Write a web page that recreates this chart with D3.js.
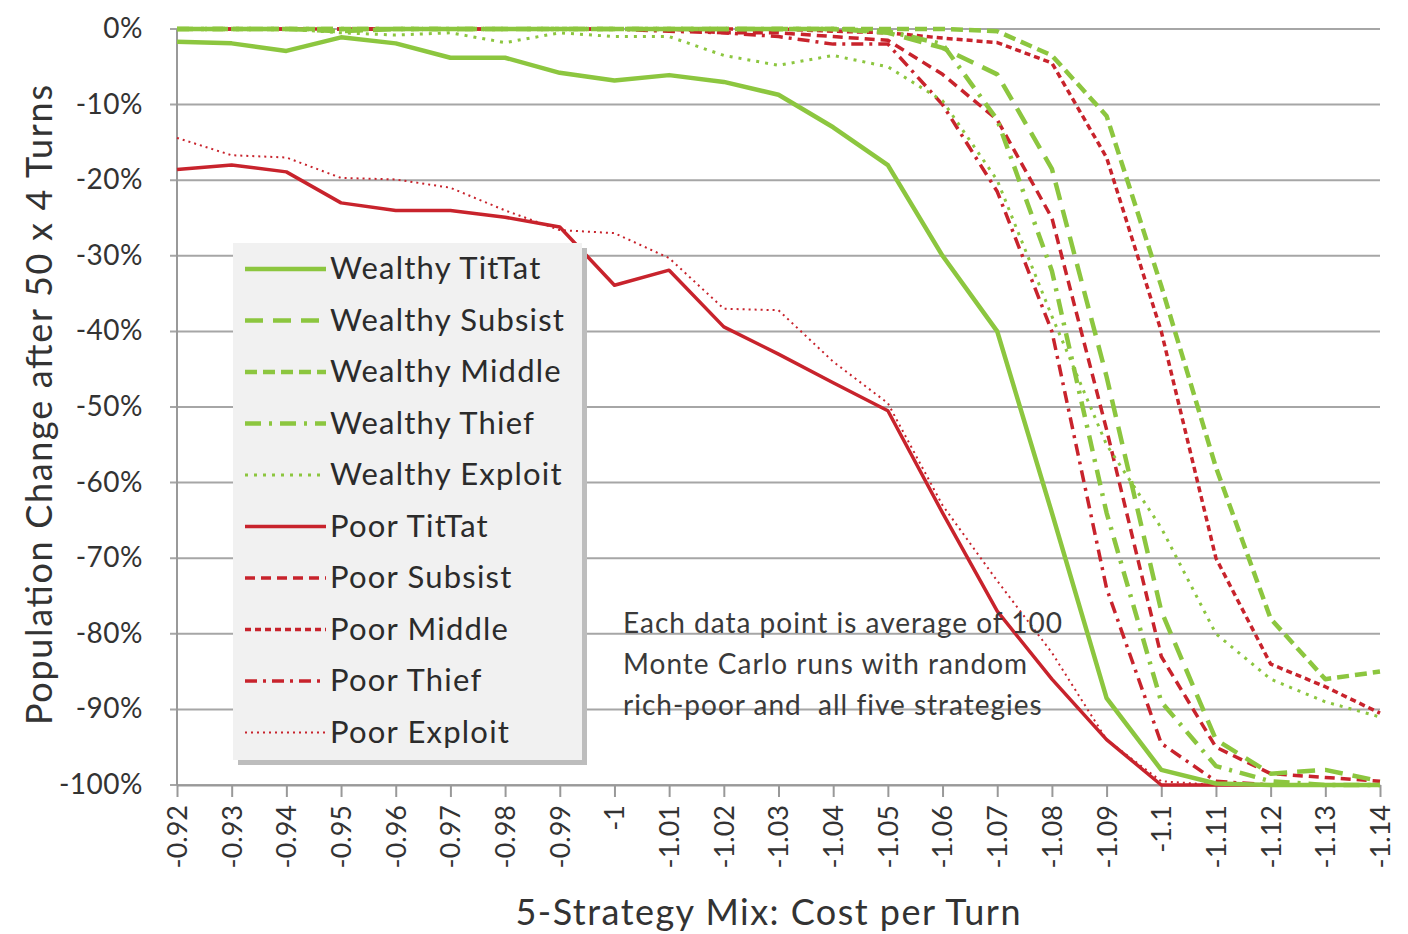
<!DOCTYPE html>
<html>
<head>
<meta charset="utf-8">
<script src="https://cdn.jsdelivr.net/npm/d3@7"></script>
<style>
  body { margin: 0; background: #fff; }
  #vis { width: 1408px; height: 934px; }
</style>
</head>
<body>
<div id="vis"></div>
<script>
// categories (cost per turn)
var cats = ['-0.92', '-0.93', '-0.94', '-0.95', '-0.96', '-0.97', '-0.98', '-0.99', '-1', '-1.01', '-1.02',
  '-1.03', '-1.04', '-1.05', '-1.06', '-1.07', '-1.08', '-1.09', '-1.1', '-1.11', '-1.12', '-1.13', '-1.14']

var yTicks = [0, -10, -20, -30, -40, -50, -60, -70, -80, -90, -100]

// population change in percent
var wealthyTitTat = [-1.7, -1.9, -2.9, -1.1, -1.9, -3.8, -3.8, -5.8, -6.8, -6.1, -7, -8.7, -13, -18, -30, -40, -64, -88.5, -98, -99.8, -100, -100, -100]
var wealthySubsist = [0, 0, 0, -0.3, 0, 0, 0, 0, 0, 0, 0, 0, 0, -0.5, -2.5, -6, -18.5, -46, -77, -94, -98.5, -98, -99.5]
var wealthyMiddle = [0, 0, 0, 0, 0, 0, 0, 0, 0, 0, 0, 0, 0, 0, 0, -0.3, -3.5, -11.5, -34, -58, -78, -86, -85]
var wealthyThief = [0, 0, 0, 0, 0, 0, 0, 0, 0, 0, 0, 0, 0, -0.3, -2, -12, -32, -64, -89, -97.5, -99.5, -100, -100]
var wealthyExploit = [0, 0, 0, -0.5, -0.8, -0.5, -1.8, -0.5, -1, -1, -3.5, -4.8, -3.5, -5, -9.5, -20, -38, -55, -66, -80, -86, -89, -91]
var poorTitTat = [-18.6, -18, -18.9, -23, -24, -24, -24.9, -26.2, -33.9, -31.9, -39.4, -43, -46.8, -50.5, -64, -77, -86, -94, -100, -100, -100, -100, -100]
var poorSubsist = [0, 0, 0, 0, 0, 0, 0, 0, 0, 0, -0.5, -0.5, -1, -1.5, -6, -12, -25, -53, -83, -95, -98.5, -99, -99.5]
var poorMiddle = [0, 0, 0, 0, 0, 0, 0, 0, 0, 0, 0, 0, -0.3, -0.5, -1.2, -1.8, -4.5, -17, -40, -70, -84, -87, -90.5]
var poorThief = [0, 0, 0, 0, 0, 0, 0, 0, 0, -0.3, -0.5, -1, -2, -2, -10, -21.5, -40, -74, -94.5, -99.5, -100, -100, -100]
var poorExploit = [-14.4, -16.7, -17, -19.7, -19.9, -21, -24, -26.6, -27, -30.3, -37, -37.2, -44, -49.5, -63, -73, -82.5, -94, -99.5, -100, -100, -100, -100]

var green = '#8cc63f',
  red = '#c8232c'

var series = [
  { name: 'Wealthy TitTat', values: wealthyTitTat, color: green, width: 4.5, dash: null },
  { name: 'Wealthy Subsist', values: wealthySubsist, color: green, width: 4.5, dash: '18,10' },
  { name: 'Wealthy Middle', values: wealthyMiddle, color: green, width: 4.5, dash: '12,6' },
  { name: 'Wealthy Thief', values: wealthyThief, color: green, width: 4.5, dash: '16,8,3,8' },
  { name: 'Wealthy Exploit', values: wealthyExploit, color: green, width: 3, dash: '3,6' },
  { name: 'Poor TitTat', values: poorTitTat, color: red, width: 3.5, dash: null },
  { name: 'Poor Subsist', values: poorSubsist, color: red, width: 3.5, dash: '10,6' },
  { name: 'Poor Middle', values: poorMiddle, color: red, width: 3.5, dash: '6,4' },
  { name: 'Poor Thief', values: poorThief, color: red, width: 3.5, dash: '12,6,3,6' },
  { name: 'Poor Exploit', values: poorExploit, color: red, width: 2, dash: '2,4' },
]

function drawChart() {
  var w = 1408,
    h = 934
  var plotLeft = 177,
    plotRight = 1380,
    plotTop = 29,
    plotBottom = 785
  var font = 'Lato, "Open Sans", sans-serif'

  var svg = d3.select('#vis').append('svg').attr('width', w).attr('height', h)

  var x = d3.scalePoint().domain(cats).range([plotLeft, plotRight])
  var y = d3.scaleLinear().domain([-100, 0]).range([plotBottom, plotTop])

  // gridlines
  svg
    .append('g')
    .selectAll('line')
    .data(yTicks)
    .enter()
    .append('line')
    .attr('x1', plotLeft - 7)
    .attr('x2', plotRight)
    .attr('y1', function (d) {
      return y(d)
    })
    .attr('y2', function (d) {
      return y(d)
    })
    .attr('stroke', '#a6a6a6')
    .attr('stroke-width', 2)

  // y axis line
  svg
    .append('line')
    .attr('x1', plotLeft)
    .attr('x2', plotLeft)
    .attr('y1', plotTop)
    .attr('y2', plotBottom)
    .attr('stroke', '#999')
    .attr('stroke-width', 2)

  // y tick labels
  svg
    .append('g')
    .selectAll('text')
    .data(yTicks)
    .enter()
    .append('text')
    .attr('x', 143)
    .attr('y', function (d) {
      return y(d) + 9
    })
    .attr('text-anchor', 'end')
    .style('font-family', font)
    .style('font-size', '28px')
    .style('letter-spacing', '0.5px')
    .style('fill', '#333')
    .text(function (d) {
      return d + '%'
    })

  // x axis
  var xAxis = svg
    .append('g')
    .attr('transform', 'translate(0,' + plotBottom + ')')
    .call(d3.axisBottom(x).tickSize(12).tickSizeOuter(0))
  xAxis.select('.domain').attr('stroke', '#999').attr('stroke-width', 2)
  xAxis.selectAll('.tick line').attr('stroke', '#999').attr('stroke-width', 2)
  xAxis
    .selectAll('.tick text')
    .attr('transform', 'rotate(-90)')
    .attr('x', -20)
    .attr('y', 0)
    .attr('dy', '0.35em')
    .attr('text-anchor', 'end')
    .style('font-family', font)
    .style('font-size', '27px')
    .style('fill', '#333')

  // lines
  var line = d3
    .line()
    .x(function (d, i) {
      return x(cats[i])
    })
    .y(function (d) {
      return y(d)
    })

  svg
    .append('g')
    .selectAll('path')
    .data(series.slice().reverse())
    .enter()
    .append('path')
    .attr('d', function (d) {
      return line(d.values)
    })
    .attr('fill', 'none')
    .attr('stroke', function (d) {
      return d.color
    })
    .attr('stroke-width', function (d) {
      return d.width
    })
    .attr('stroke-dasharray', function (d) {
      return d.dash
    })
    .attr('stroke-linejoin', 'round')

  // legend
  var lg = svg.append('g').attr('transform', 'translate(233,243)')
  lg.append('rect').attr('x', 5).attr('y', 5).attr('width', 349).attr('height', 517).attr('fill', '#bdbdbd')
  lg.append('rect').attr('x', 0).attr('y', 0).attr('width', 349).attr('height', 517).attr('fill', '#f1f1f1')

  var items = lg
    .selectAll('g.item')
    .data(series)
    .enter()
    .append('g')
    .attr('class', 'item')
    .attr('transform', function (d, i) {
      return 'translate(0,' + (26 + i * 51.5) + ')'
    })
  items
    .append('line')
    .attr('x1', 12)
    .attr('x2', 93)
    .attr('y1', 0)
    .attr('y2', 0)
    .attr('stroke', function (d) {
      return d.color
    })
    .attr('stroke-width', function (d) {
      return d.width
    })
    .attr('stroke-dasharray', function (d) {
      return d.dash
    })
  items
    .append('text')
    .attr('x', 97)
    .attr('y', 10)
    .style('font-family', font)
    .style('font-size', '31px')
    .style('letter-spacing', '1.2px')
    .style('fill', '#2b2b2b')
    .text(function (d) {
      return d.name
    })

  // note
  var note = ['Each data point is average of 100', 'Monte Carlo runs with random', 'rich-poor and  all five strategies']
  svg
    .append('g')
    .selectAll('text')
    .data(note)
    .enter()
    .append('text')
    .attr('x', 623)
    .attr('y', function (d, i) {
      return 633 + i * 41
    })
    .style('font-family', font)
    .style('font-size', '28px')
    .style('letter-spacing', '1px')
    .style('fill', '#3a3a3a')
    .style('white-space', 'pre')
    .text(function (d) {
      return d
    })

  // axis titles
  svg
    .append('text')
    .attr('x', 768)
    .attr('y', 925)
    .attr('text-anchor', 'middle')
    .attr('textLength', 505)
    .style('font-family', font)
    .style('font-size', '36px')
    .style('fill', '#333')
    .text('5-Strategy Mix: Cost per Turn')

  svg
    .append('text')
    .attr('transform', 'translate(52,405)rotate(-90)')
    .attr('text-anchor', 'middle')
    .attr('textLength', 640)
    .style('font-family', font)
    .style('font-size', '36px')
    .style('fill', '#333')
    .text('Population Change after 50 x 4 Turns')
}

drawChart()
</script>
</body>
</html>
